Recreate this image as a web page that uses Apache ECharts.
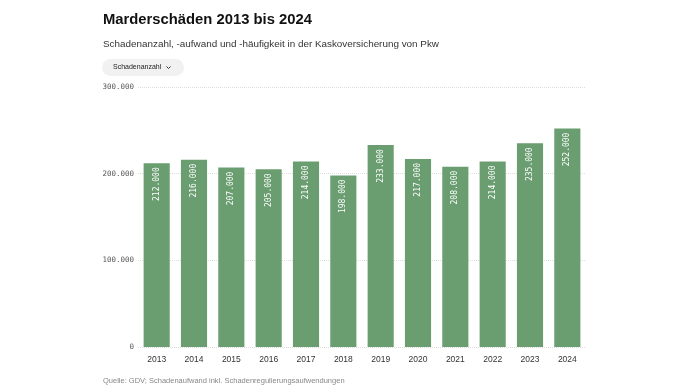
<!DOCTYPE html>
<html><head><meta charset="utf-8">
<script src="https://cdn.jsdelivr.net/npm/echarts@6/dist/echarts.min.js"></script>
<style>html,body{margin:0;padding:0;background:#fff}#c{width:690px;height:389px}</style>
</head><body><div id="c"></div>
<script>
const years = ['2013','2014','2015','2016','2017','2018','2019','2020','2021','2022','2023','2024'];
const schadenanzahl = [212000,216000,207000,205000,214000,198000,233000,217000,208000,214000,235000,252000];
const yTicks = [0,100000,200000,300000];

const fmt = v => v === 0 ? '0' : String(v).replace(/\B(?=(\d{3})+(?!\d))/g, '.');
const chart = echarts.init(document.getElementById('c'));
chart.setOption({
  animation:false,
  backgroundColor:'#fff',
  title:[
    {text:'Marderschäden 2013 bis 2024', left:98, top:7, textStyle:{fontFamily:'Liberation Sans', fontWeight:'bold', fontSize:14.8, color:'#111'}},
    {text:'Schadenanzahl, -aufwand und -häufigkeit in der Kaskoversicherung von Pkw', left:98, top:34, textStyle:{fontFamily:'Liberation Sans', fontWeight:'normal', fontSize:9.9, color:'#333'}},
    {text:'Quelle: GDV; Schadenaufwand inkl. Schadenregulierungsaufwendungen', left:98, top:372, textStyle:{fontFamily:'Liberation Sans', fontWeight:'normal', fontSize:7.5, color:'#888'}}
  ],
  graphic:[
    {type:'rect', shape:{x:102, y:59, width:82, height:17, r:8.5}, style:{fill:'#f1f1f1'}},
    {type:'text', x:113, y:67.5, style:{text:'Schadenanzahl', font:'7px Liberation Sans', fill:'#222', verticalAlign:'middle'}},
    {type:'polyline', shape:{points:[[166.5,66.5],[168.5,68.5],[170.5,66.5]]}, style:{stroke:'#333', lineWidth:1, fill:null}}
  ],
  grid:{left:138, right:104, top:87, bottom:42},
  xAxis:{type:'category', data:years,
    axisLine:{show:false}, axisTick:{show:false},
    axisLabel:{fontFamily:'Liberation Sans', fontSize:8.5, color:'#333', margin:8}},
  yAxis:{type:'value', min:0, max:300000, interval:100000,
    axisLabel:{formatter:v=>yTicks.includes(v)?fmt(v):'', fontFamily:'DejaVu Sans Mono', fontSize:7.5, color:'#555', margin:4},
    splitLine:{lineStyle:{type:'dotted', color:'#ddd'}}},
  series:[{type:'bar', data:schadenanzahl, barWidth:'70%',
    itemStyle:{color:'#6a9e71'},
    label:{show:true, position:'insideTop', rotate:90, align:'right', verticalAlign:'middle', distance:4,
      formatter:p=>fmt(p.value), fontFamily:'DejaVu Sans Mono', fontSize:8, color:'#fff'}}]
});
</script></body></html>
